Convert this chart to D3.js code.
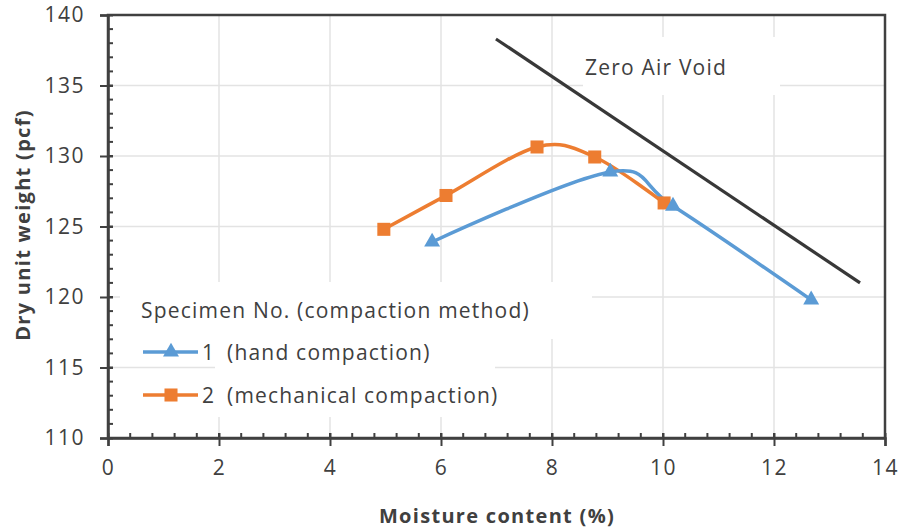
<!DOCTYPE html>
<html>
<head>
<meta charset="utf-8">
<script src="https://cdn.jsdelivr.net/npm/d3@7"></script>
<style>
  body { margin: 0; background: #fff; }
  text { font-family: "Open Sans", sans-serif; fill: #404040; }
</style>
</head>
<body>
<div id="chart"></div>
<script>
// moisture content (%) vs dry unit weight (pcf)
var handX = [5.84, 9.05, 10.18, 12.67];
var handY = [123.9, 128.87, 126.45, 119.8];
var mechX = [4.97, 6.09, 7.73, 8.77, 10.02];
var mechY = [124.8, 127.2, 130.64, 129.93, 126.67];
var zavX = [6.99, 13.55];
var zavY = [138.3, 121.0];

var xTicks = [0, 2, 4, 6, 8, 10, 12, 14];
var yTicks = [110, 115, 120, 125, 130, 135, 140];
var legendLabels = ["1", "2"];
var legendNames = ["(hand compaction)", "(mechanical compaction)"];

var W = 904, H = 532;
var margin = { top: 15, right: 19, bottom: 94, left: 108 };
var width = W - margin.left - margin.right;
var height = H - margin.top - margin.bottom;

var blue = "#5B9BD5", orange = "#ED7D31", dark = "#404040";

var svg = d3.select("#chart").append("svg")
  .attr("width", W)
  .attr("height", H);

var g = svg.append("g")
  .attr("transform", "translate(" + margin.left + "," + margin.top + ")");

var x = d3.scaleLinear().domain([0, 14]).range([0, width]);
var y = d3.scaleLinear().domain([110, 140]).range([height, 0]);

// gridlines
g.append("g")
  .selectAll("line.vg")
  .data(xTicks.slice(1, -1))
  .enter().append("line")
  .attr("x1", function (d) { return x(d); })
  .attr("x2", function (d) { return x(d); })
  .attr("y1", 0).attr("y2", height)
  .attr("stroke", "#e3e3e3").attr("stroke-width", 1.5);

g.append("g")
  .selectAll("line.hg")
  .data(yTicks.slice(1, -1))
  .enter().append("line")
  .attr("x1", 0).attr("x2", width)
  .attr("y1", function (d) { return y(d); })
  .attr("y2", function (d) { return y(d); })
  .attr("stroke", "#e3e3e3").attr("stroke-width", 1.5);

// white boxes behind labels (they hide the grid like in the original)
g.append("rect").attr("x", 583 - margin.left).attr("y", 37 - margin.top)
  .attr("width", 197).attr("height", 58).attr("fill", "#fff");
g.append("rect").attr("x", 120 - margin.left).attr("y", 282 - margin.top)
  .attr("width", 472).attr("height", 57).attr("fill", "#fff");
g.append("rect").attr("x", 215 - margin.left).attr("y", 339 - margin.top)
  .attr("width", 280).attr("height", 78).attr("fill", "#fff");

// frame
g.append("rect")
  .attr("width", width).attr("height", height)
  .attr("fill", "none").attr("stroke", dark).attr("stroke-width", 2.5);

// axes
var xAxis = g.append("g")
  .attr("transform", "translate(0," + height + ")")
  .call(d3.axisBottom(x).tickValues(xTicks).tickSize(8).tickPadding(14).tickFormat(d3.format("d")));
var yAxis = g.append("g")
  .call(d3.axisLeft(y).tickValues(yTicks).tickSize(8).tickPadding(15).tickFormat(d3.format("d")));

[xAxis, yAxis].forEach(function (a) {
  a.select(".domain").attr("stroke", dark).attr("stroke-width", 2.5);
  a.selectAll(".tick line").attr("stroke", dark).attr("stroke-width", 2);
  a.selectAll(".tick text")
    .attr("font-family", "'Open Sans', sans-serif")
    .attr("font-size", 21)
    .attr("letter-spacing", "1.5px")
    .attr("fill", "#333");
});
xAxis.selectAll(".tick line").attr("y1", -5);
yAxis.selectAll(".tick line").attr("x1", 5);

// minor ticks
g.append("g").selectAll("line")
  .data(d3.range(0, 35).map(function (i) { return i * 0.4; }))
  .enter().append("line")
  .attr("x1", function (d) { return x(d); })
  .attr("x2", function (d) { return x(d); })
  .attr("y1", height).attr("y2", height - 5)
  .attr("stroke", dark).attr("stroke-width", 2);
g.append("g").selectAll("line")
  .data(d3.range(110, 141, 1))
  .enter().append("line")
  .attr("x1", 0).attr("x2", 5)
  .attr("y1", function (d) { return y(d); })
  .attr("y2", function (d) { return y(d); })
  .attr("stroke", dark).attr("stroke-width", 2);

// axis titles
svg.append("text")
  .attr("x", 497)
  .attr("y", 523)
  .attr("text-anchor", "middle")
  .attr("font-size", 20)
  .attr("letter-spacing", "1.3px")
  .attr("font-weight", "bold")
  .attr("fill", "#333")
  .text("Moisture content (%)");

svg.append("text")
  .attr("transform", "translate(30,225) rotate(-90)")
  .attr("text-anchor", "middle")
  .attr("font-size", 20)
  .attr("letter-spacing", "1.3px")
  .attr("font-weight", "bold")
  .attr("fill", "#333")
  .text("Dry unit weight (pcf)");

// series
var line = d3.line()
  .x(function (d) { return x(d[0]); })
  .y(function (d) { return y(d[1]); })
  .curve(d3.curveCardinal.tension(0));

var zav = d3.zip(zavX, zavY);
var hand = d3.zip(handX, handY);
var mech = d3.zip(mechX, mechY);

g.append("path").datum(zav)
  .attr("d", line).attr("fill", "none")
  .attr("stroke", "#383838").attr("stroke-width", 3.2);

g.append("path").datum(mech)
  .attr("d", line).attr("fill", "none")
  .attr("stroke", orange).attr("stroke-width", 3.5);
g.append("path").datum(hand)
  .attr("d", line).attr("fill", "none")
  .attr("stroke", blue).attr("stroke-width", 3.5);

var tri = d3.symbol().type(d3.symbolTriangle).size(110);
var sq = d3.symbol().type(d3.symbolSquare).size(170);

g.append("g").selectAll("path")
  .data(mech).enter().append("path")
  .attr("d", sq)
  .attr("transform", function (d) { return "translate(" + x(d[0]) + "," + y(d[1]) + ")"; })
  .attr("fill", orange);

g.append("g").selectAll("path")
  .data(hand).enter().append("path")
  .attr("d", tri)
  .attr("transform", function (d) { return "translate(" + x(d[0]) + "," + y(d[1]) + ")"; })
  .attr("fill", blue);

// labels
svg.append("text")
  .attr("x", 585).attr("y", 75)
  .attr("font-size", 21)
  .attr("letter-spacing", "1.2px")
  .text("Zero Air Void");

svg.append("text")
  .attr("x", 141).attr("y", 318)
  .attr("font-size", 21)
  .attr("letter-spacing", "1.2px")
  .text("Specimen No. (compaction method)");

var legendColors = [blue, orange];
var legendSymbols = [tri, sq];
legendLabels.forEach(function (lab, i) {
  var ly = 352 + i * 43;
  svg.append("line")
    .attr("x1", 143).attr("x2", 198)
    .attr("y1", ly).attr("y2", ly)
    .attr("stroke", legendColors[i]).attr("stroke-width", 3.5);
  svg.append("path")
    .attr("d", legendSymbols[i])
    .attr("transform", "translate(171," + ly + ")")
    .attr("fill", legendColors[i]);
  svg.append("text")
    .attr("x", 202).attr("y", ly + 8)
    .attr("font-size", 21)
    .attr("letter-spacing", "1.2px")
    .text(lab);
  svg.append("text")
    .attr("x", 227).attr("y", ly + 8)
    .attr("font-size", 21)
    .attr("letter-spacing", "1.2px")
    .text(legendNames[i]);
});
</script>
</body>
</html>
